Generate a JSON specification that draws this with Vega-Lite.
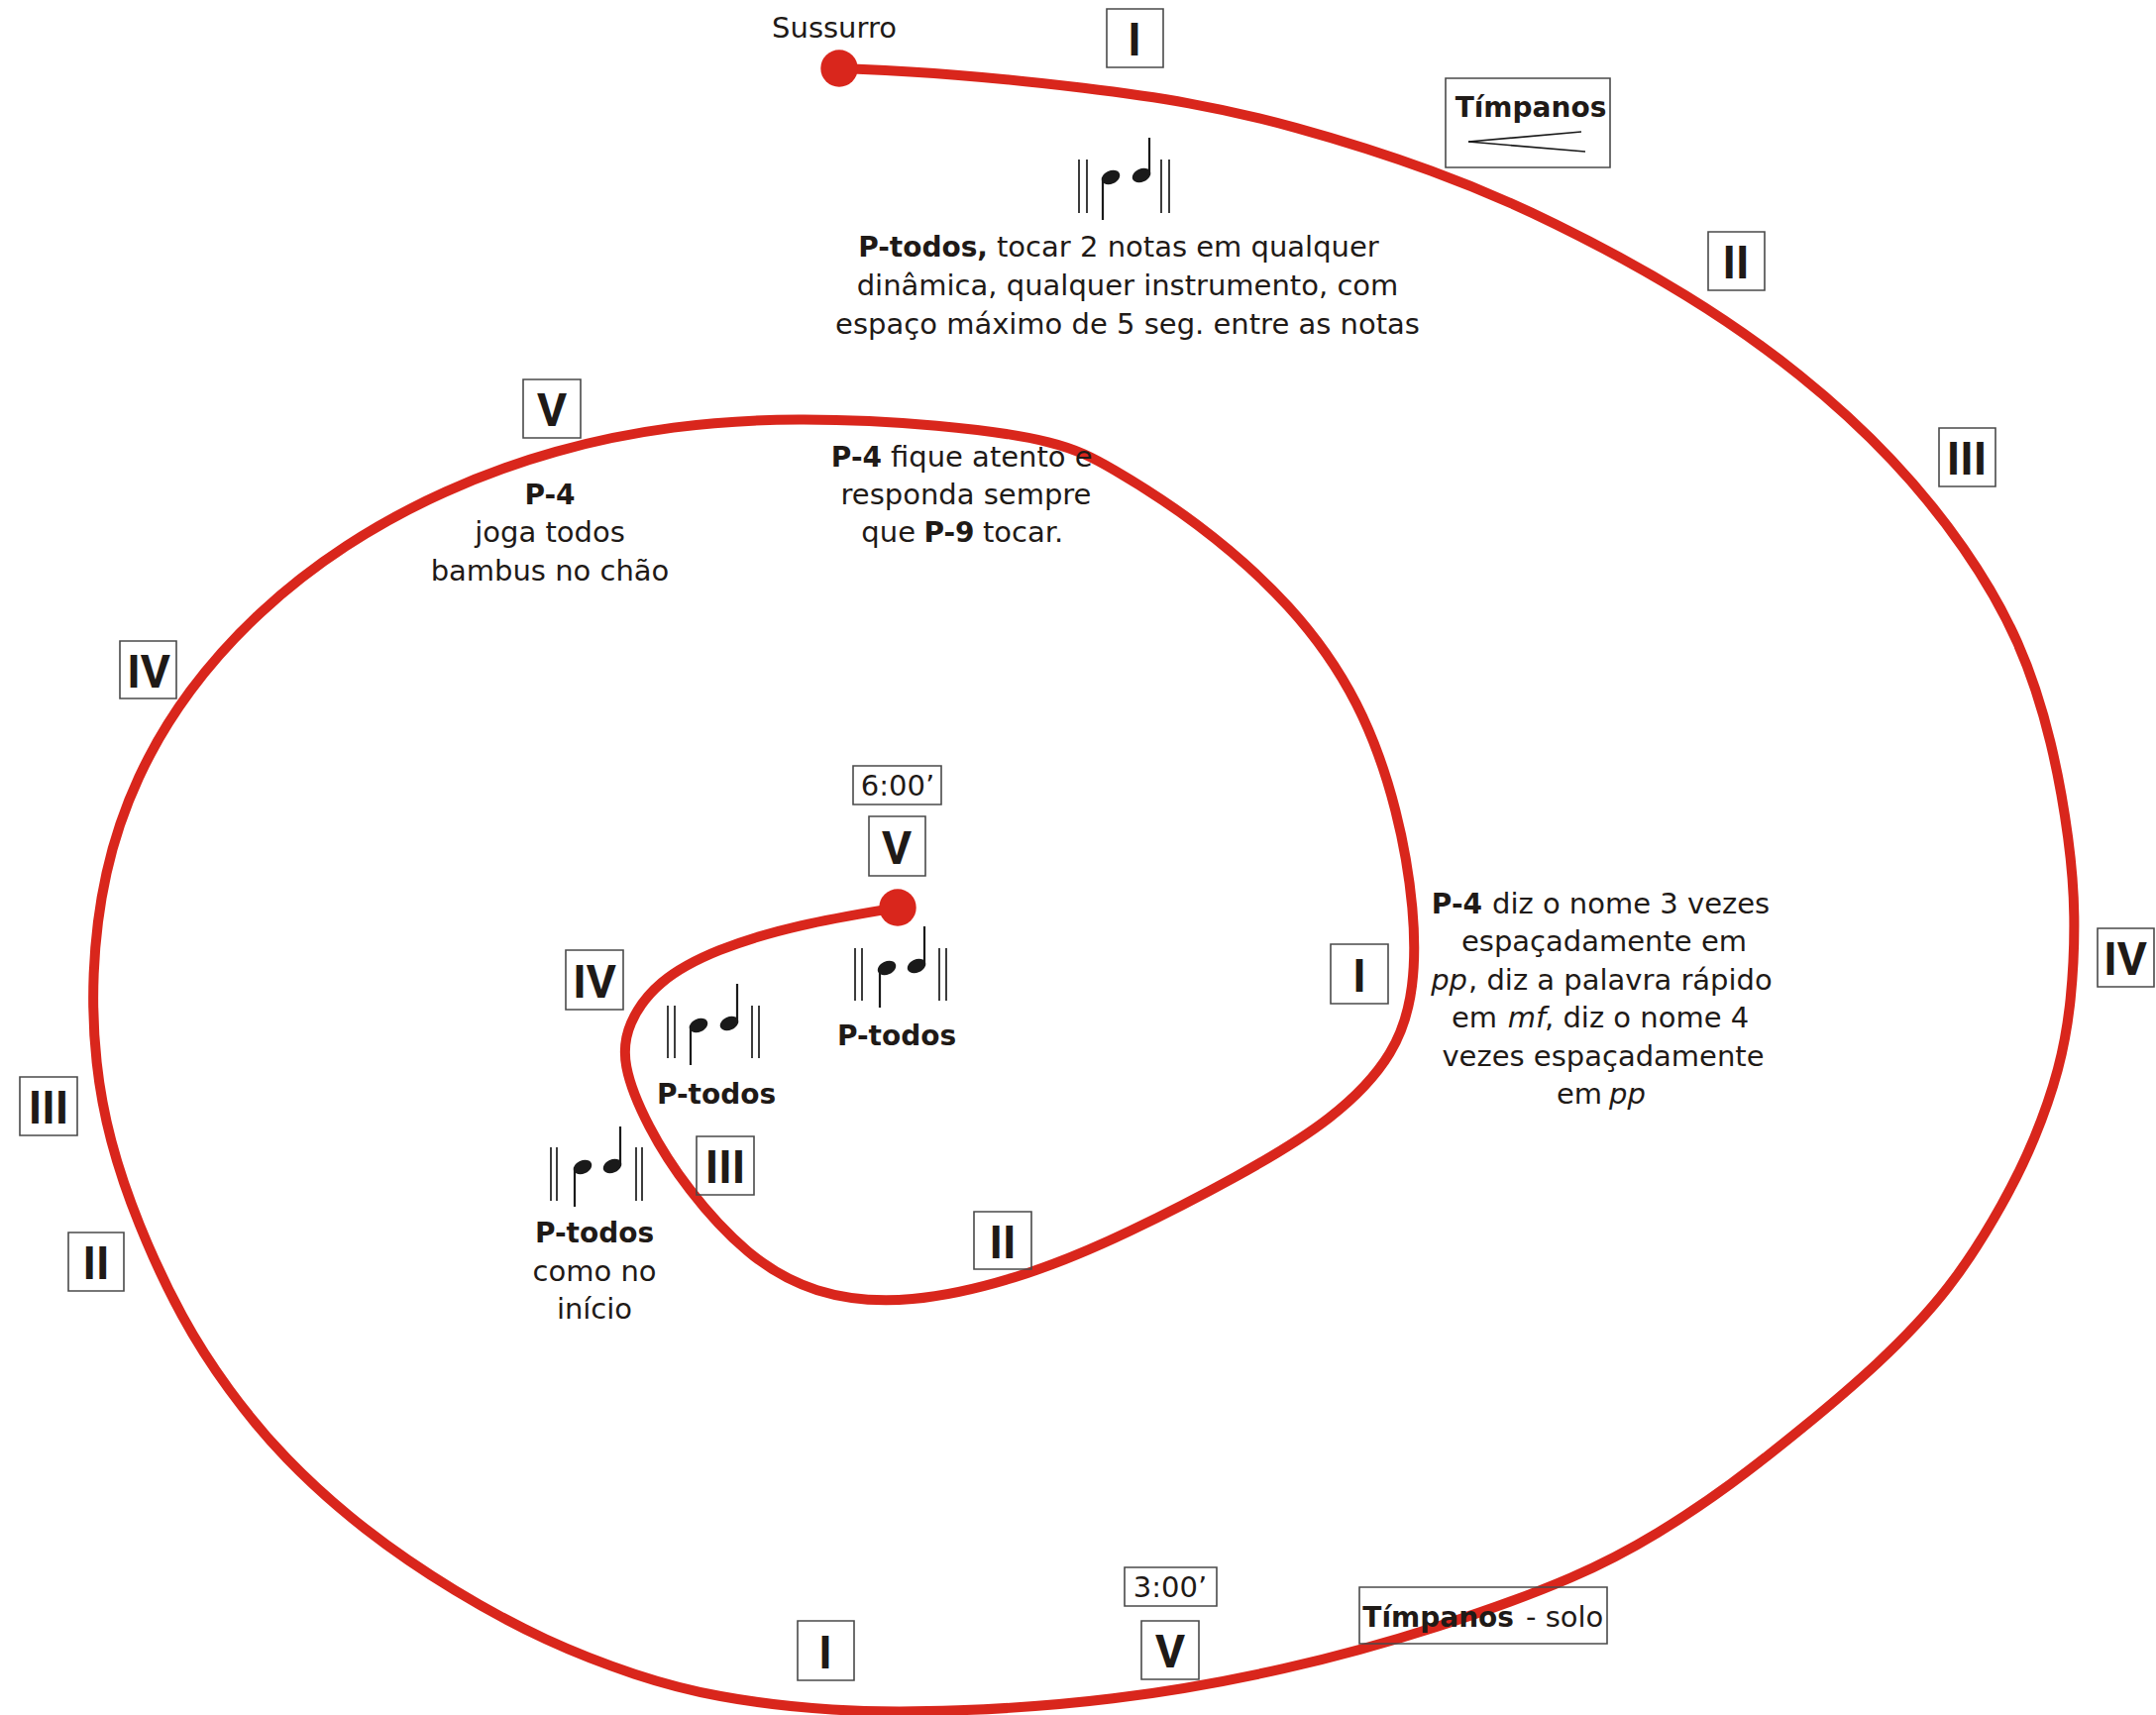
{
  "$schema": "https://vega.github.io/schema/vega-lite/v6.json",
  "width": 2176,
  "height": 1731,
  "padding": 0,
  "autosize": {"type": "none"},
  "background": "white",
  "config": {"view": {"stroke": null}},
  "datasets": {
    "path": [
      {"i":1,"x":847,"y":69},{"i":2,"x":960,"y":74},{"i":3,"x":1100,"y":89},{"i":4,"x":1200,"y":103},
      {"i":5,"x":1300,"y":125},{"i":6,"x":1450,"y":172},{"i":7,"x":1566,"y":222},{"i":8,"x":1705,"y":297},
      {"i":9,"x":1820,"y":378},{"i":10,"x":1913,"y":464},{"i":11,"x":1984,"y":552},{"i":12,"x":2040,"y":647},
      {"i":13,"x":2072,"y":750},{"i":14,"x":2089,"y":850},{"i":15,"x":2095,"y":922},{"i":16,"x":2091,"y":1012},
      {"i":17,"x":2079,"y":1079},{"i":18,"x":2054,"y":1150},{"i":19,"x":2024,"y":1212},{"i":20,"x":1969,"y":1302},
      {"i":21,"x":1895,"y":1378},{"i":22,"x":1820,"y":1441},{"i":23,"x":1747,"y":1499},{"i":24,"x":1674,"y":1548},
      {"i":25,"x":1596,"y":1591},{"i":26,"x":1453,"y":1643},{"i":27,"x":1300,"y":1686},{"i":28,"x":1120,"y":1718},
      {"i":29,"x":960,"y":1728},{"i":30,"x":840,"y":1728},{"i":31,"x":720,"y":1713},{"i":32,"x":643,"y":1692},
      {"i":33,"x":551,"y":1657},{"i":34,"x":459,"y":1607},{"i":35,"x":367,"y":1545},{"i":36,"x":285,"y":1471},
      {"i":37,"x":230,"y":1403},{"i":38,"x":184,"y":1333},{"i":39,"x":138,"y":1234},{"i":40,"x":110,"y":1150},
      {"i":41,"x":96,"y":1075},{"i":42,"x":92,"y":985},{"i":43,"x":104,"y":880},{"i":44,"x":137,"y":783},
      {"i":45,"x":189,"y":696},{"i":46,"x":260,"y":617},{"i":47,"x":347,"y":549},{"i":48,"x":448,"y":494},
      {"i":49,"x":560,"y":453},{"i":50,"x":679,"y":429},{"i":51,"x":802,"y":421},
      {"i":53,"x":950,"y":428},{"i":54,"x":1070,"y":445},{"i":55,"x":1119,"y":470},{"i":56,"x":1207,"y":525},
      {"i":57,"x":1305,"y":610},{"i":58,"x":1374,"y":708},{"i":59,"x":1412,"y":820},{"i":60,"x":1428,"y":920},
      {"i":61,"x":1428,"y":997},{"i":62,"x":1410,"y":1063},{"i":63,"x":1347,"y":1130},{"i":64,"x":1249,"y":1188},
      {"i":65,"x":1138,"y":1245},{"i":66,"x":1041,"y":1287},{"i":67,"x":916,"y":1318},{"i":68,"x":820,"y":1307},
      {"i":69,"x":753,"y":1267},{"i":70,"x":693,"y":1200},{"i":71,"x":653,"y":1137},{"i":72,"x":627,"y":1073},
      {"i":73,"x":633,"y":1033},{"i":74,"x":663,"y":990},{"i":75,"x":722,"y":958},{"i":76,"x":805,"y":933},
      {"i":77,"x":906,"y":916}
    ],
    "dots": [{"x":847,"y":69,"name":"início"},{"x":906,"y":916,"name":"fim"}],
    "boxes": [
      {"x1":1117,"x2":1174,"y1":9,"y2":68},{"x1":1724,"x2":1781,"y1":234,"y2":293},
      {"x1":1957,"x2":2014,"y1":432,"y2":491},{"x1":2117,"x2":2174,"y1":937,"y2":996},
      {"x1":1152,"x2":1210,"y1":1636,"y2":1695},{"x1":805,"x2":862,"y1":1636,"y2":1696},
      {"x1":69,"x2":125,"y1":1244,"y2":1303},{"x1":20,"x2":78,"y1":1087,"y2":1146},
      {"x1":121,"x2":178,"y1":647,"y2":705},{"x1":528,"x2":586,"y1":383,"y2":442},
      {"x1":1343,"x2":1401,"y1":953,"y2":1013},{"x1":983,"x2":1041,"y1":1223,"y2":1281},
      {"x1":703,"x2":761,"y1":1147,"y2":1206},{"x1":571,"x2":629,"y1":959,"y2":1019},
      {"x1":877,"x2":934,"y1":824,"y2":884},
      {"x1":1459,"x2":1625,"y1":79,"y2":169},{"x1":1135,"x2":1228,"y1":1582,"y2":1621},
      {"x1":861,"x2":950,"y1":773,"y2":812},{"x1":1372,"x2":1622,"y1":1602,"y2":1659}
    ],
    "rules": [
      {"x":1482,"y":143,"x2":1596,"y2":133,"k":"thin"},{"x":1482,"y":143,"x2":1600,"y2":153,"k":"thin"},
      {"x":1089,"y":161,"x2":1089,"y2":215,"k":"thin"},{"x":1097,"y":161,"x2":1097,"y2":215,"k":"thin"},
      {"x":1172,"y":161,"x2":1172,"y2":215,"k":"thin"},{"x":1180,"y":161,"x2":1180,"y2":215,"k":"thin"},
      {"x":1113,"y":179,"x2":1113,"y2":222,"k":"stem"},{"x":1160,"y":139,"x2":1160,"y2":177,"k":"stem"},
      {"x":863,"y":957,"x2":863,"y2":1010,"k":"thin"},{"x":870,"y":957,"x2":870,"y2":1010,"k":"thin"},
      {"x":948,"y":957,"x2":948,"y2":1010,"k":"thin"},{"x":955,"y":957,"x2":955,"y2":1010,"k":"thin"},
      {"x":888,"y":977,"x2":888,"y2":1017,"k":"stem"},{"x":933,"y":935,"x2":933,"y2":975,"k":"stem"},
      {"x":674,"y":1015,"x2":674,"y2":1068,"k":"thin"},{"x":681,"y":1015,"x2":681,"y2":1068,"k":"thin"},
      {"x":759,"y":1015,"x2":759,"y2":1068,"k":"thin"},{"x":766,"y":1015,"x2":766,"y2":1068,"k":"thin"},
      {"x":697,"y":1035,"x2":697,"y2":1075,"k":"stem"},{"x":744,"y":993,"x2":744,"y2":1033,"k":"stem"},
      {"x":556,"y":1158,"x2":556,"y2":1212,"k":"thin"},{"x":562,"y":1158,"x2":562,"y2":1212,"k":"thin"},
      {"x":642,"y":1158,"x2":642,"y2":1212,"k":"thin"},{"x":648,"y":1158,"x2":648,"y2":1212,"k":"thin"},
      {"x":580,"y":1178,"x2":580,"y2":1218,"k":"stem"},{"x":626,"y":1137,"x2":626,"y2":1177,"k":"stem"}
    ],
    "heads": [
      {"x":1121,"y":179},{"x":1152,"y":177},{"x":895,"y":977},{"x":925,"y":975},
      {"x":705,"y":1035},{"x":736,"y":1033},{"x":588,"y":1178},{"x":618,"y":1177}
    ],
    "texts": [
      {"x":842,"y":38,"t":"Sussurro","k":"nc"},
      {"x":997,"y":259,"t":"P-todos,","k":"br"},
      {"x":1006,"y":259,"t":"tocar 2 notas em qualquer","k":"nl"},
      {"x":1138,"y":298,"t":"dinâmica, qualquer instrumento, com","k":"nc"},
      {"x":1138,"y":337,"t":"espaço máximo de 5 seg. entre as notas","k":"nc"},
      {"x":890,"y":471,"t":"P-4","k":"br"},
      {"x":899,"y":471,"t":"fique atento e","k":"nl"},
      {"x":975,"y":509,"t":"responda sempre","k":"nc"},
      {"x":924,"y":547,"t":"que","k":"nr"},
      {"x":958,"y":547,"t":"P-9","k":"bc"},
      {"x":992,"y":547,"t":"tocar.","k":"nl"},
      {"x":555,"y":509,"t":"P-4","k":"bc"},
      {"x":555,"y":547,"t":"joga todos","k":"nc"},
      {"x":555,"y":586,"t":"bambus no chão","k":"nc"},
      {"x":1496,"y":922,"t":"P-4","k":"br"},
      {"x":1506,"y":922,"t":"diz o nome 3 vezes","k":"nl"},
      {"x":1619,"y":960,"t":"espaçadamente em","k":"nc"},
      {"x":1481,"y":999,"t":"pp","k":"ir"},
      {"x":1482,"y":999,"t":", diz a palavra rápido","k":"nl"},
      {"x":1511,"y":1037,"t":"em","k":"nr"},
      {"x":1541,"y":1037,"t":"mf","k":"ic"},
      {"x":1559,"y":1037,"t":", diz o nome 4","k":"nl"},
      {"x":1618,"y":1076,"t":"vezes espaçadamente","k":"nc"},
      {"x":1617,"y":1114,"t":"em","k":"nr"},
      {"x":1624,"y":1114,"t":"pp","k":"il"},
      {"x":905,"y":1055,"t":"P-todos","k":"bc"},
      {"x":723,"y":1114,"t":"P-todos","k":"bc"},
      {"x":600,"y":1254,"t":"P-todos","k":"bc"},
      {"x":600,"y":1293,"t":"como no","k":"nc"},
      {"x":600,"y":1331,"t":"início","k":"nc"},
      {"x":1545,"y":118,"t":"Tímpanos","k":"bc"},
      {"x":1528,"y":1642,"t":"Tímpanos","k":"br"},
      {"x":1540,"y":1642,"t":"- solo","k":"nl"},
      {"x":1181,"y":1612,"t":"3:00’","k":"nc"},
      {"x":906,"y":803,"t":"6:00’","k":"nc"},
      {"x":1145,"y":56,"t":"I","k":"num"},
      {"x":1752,"y":281,"t":"II","k":"num"},
      {"x":1985,"y":479,"t":"III","k":"num"},
      {"x":2145,"y":984,"t":"IV","k":"num"},
      {"x":1181,"y":1683,"t":"V","k":"num"},
      {"x":833,"y":1684,"t":"I","k":"num"},
      {"x":97,"y":1291,"t":"II","k":"num"},
      {"x":49,"y":1134,"t":"III","k":"num"},
      {"x":150,"y":694,"t":"IV","k":"num"},
      {"x":557,"y":430,"t":"V","k":"num"},
      {"x":1372,"y":1001,"t":"I","k":"num"},
      {"x":1012,"y":1270,"t":"II","k":"num"},
      {"x":732,"y":1194,"t":"III","k":"num"},
      {"x":600,"y":1007,"t":"IV","k":"num"},
      {"x":905,"y":872,"t":"V","k":"num"}
    ]
  },
  "layer": [
    {
      "data": {"name": "path"},
      "mark": {"type": "line", "interpolate": "basis", "strokeWidth": 10, "color": "#D9261C", "strokeCap": "round", "strokeJoin": "round"},
      "encoding": {
        "x": {"field": "x", "type": "quantitative", "scale": {"domain": [0, 2176], "nice": false, "zero": false}, "axis": null},
        "y": {"field": "y", "type": "quantitative", "scale": {"domain": [0, 1731], "reverse": true, "nice": false, "zero": false}, "axis": null},
        "order": {"field": "i", "type": "quantitative"}
      }
    },
    {
      "data": {"name": "dots"},
      "mark": {"type": "point", "shape": "circle", "filled": true, "size": 1400, "color": "#D9261C", "opacity": 1},
      "encoding": {
        "x": {"field": "x", "type": "quantitative"},
        "y": {"field": "y", "type": "quantitative"}
      }
    },
    {
      "data": {"name": "boxes"},
      "mark": {"type": "rect", "fill": null, "fillOpacity": 0, "stroke": "#4a4a4a", "strokeWidth": 1.6},
      "encoding": {
        "x": {"field": "x1", "type": "quantitative"},
        "x2": {"field": "x2"},
        "y": {"field": "y1", "type": "quantitative"},
        "y2": {"field": "y2"}
      }
    },
    {
      "data": {"name": "rules"},
      "transform": [{"filter": "datum.k === 'thin'"}],
      "mark": {"type": "rule", "color": "#1a1a1a", "strokeWidth": 1.7},
      "encoding": {
        "x": {"field": "x", "type": "quantitative"},
        "y": {"field": "y", "type": "quantitative"},
        "x2": {"field": "x2"},
        "y2": {"field": "y2"}
      }
    },
    {
      "data": {"name": "rules"},
      "transform": [{"filter": "datum.k === 'stem'"}],
      "mark": {"type": "rule", "color": "#1a1a1a", "strokeWidth": 2.2},
      "encoding": {
        "x": {"field": "x", "type": "quantitative"},
        "y": {"field": "y", "type": "quantitative"},
        "x2": {"field": "x2"},
        "y2": {"field": "y2"}
      }
    },
    {
      "data": {"name": "heads"},
      "mark": {"type": "point", "filled": true, "color": "#1a1a1a", "opacity": 1, "size": 380, "angle": -25,
        "shape": "M 1 0 C 1 0.36 0.55 0.68 0 0.68 C -0.55 0.68 -1 0.36 -1 0 C -1 -0.36 -0.55 -0.68 0 -0.68 C 0.55 -0.68 1 -0.36 1 0 Z"},
      "encoding": {
        "x": {"field": "x", "type": "quantitative"},
        "y": {"field": "y", "type": "quantitative"}
      }
    },
    {
      "data": {"name": "texts"},
      "transform": [{"filter": "datum.k === 'nc'"}],
      "mark": {"type": "text", "font": "DejaVu Sans", "fontSize": 29, "align": "center", "baseline": "alphabetic", "color": "#1f1a17"},
      "encoding": {"x": {"field": "x", "type": "quantitative"}, "y": {"field": "y", "type": "quantitative"}, "text": {"field": "t"}}
    },
    {
      "data": {"name": "texts"},
      "transform": [{"filter": "datum.k === 'nl'"}],
      "mark": {"type": "text", "font": "DejaVu Sans", "fontSize": 29, "align": "left", "baseline": "alphabetic", "color": "#1f1a17"},
      "encoding": {"x": {"field": "x", "type": "quantitative"}, "y": {"field": "y", "type": "quantitative"}, "text": {"field": "t"}}
    },
    {
      "data": {"name": "texts"},
      "transform": [{"filter": "datum.k === 'nr'"}],
      "mark": {"type": "text", "font": "DejaVu Sans", "fontSize": 29, "align": "right", "baseline": "alphabetic", "color": "#1f1a17"},
      "encoding": {"x": {"field": "x", "type": "quantitative"}, "y": {"field": "y", "type": "quantitative"}, "text": {"field": "t"}}
    },
    {
      "data": {"name": "texts"},
      "transform": [{"filter": "datum.k === 'bc'"}],
      "mark": {"type": "text", "font": "DejaVu Sans", "fontSize": 28, "fontWeight": "bold", "align": "center", "baseline": "alphabetic", "color": "#1f1a17"},
      "encoding": {"x": {"field": "x", "type": "quantitative"}, "y": {"field": "y", "type": "quantitative"}, "text": {"field": "t"}}
    },
    {
      "data": {"name": "texts"},
      "transform": [{"filter": "datum.k === 'br'"}],
      "mark": {"type": "text", "font": "DejaVu Sans", "fontSize": 28, "fontWeight": "bold", "align": "right", "baseline": "alphabetic", "color": "#1f1a17"},
      "encoding": {"x": {"field": "x", "type": "quantitative"}, "y": {"field": "y", "type": "quantitative"}, "text": {"field": "t"}}
    },
    {
      "data": {"name": "texts"},
      "transform": [{"filter": "datum.k === 'il'"}],
      "mark": {"type": "text", "font": "DejaVu Sans", "fontSize": 29, "fontStyle": "italic", "align": "left", "baseline": "alphabetic", "color": "#1f1a17"},
      "encoding": {"x": {"field": "x", "type": "quantitative"}, "y": {"field": "y", "type": "quantitative"}, "text": {"field": "t"}}
    },
    {
      "data": {"name": "texts"},
      "transform": [{"filter": "datum.k === 'ir'"}],
      "mark": {"type": "text", "font": "DejaVu Sans", "fontSize": 29, "fontStyle": "italic", "align": "right", "baseline": "alphabetic", "color": "#1f1a17"},
      "encoding": {"x": {"field": "x", "type": "quantitative"}, "y": {"field": "y", "type": "quantitative"}, "text": {"field": "t"}}
    },
    {
      "data": {"name": "texts"},
      "transform": [{"filter": "datum.k === 'ic'"}],
      "mark": {"type": "text", "font": "DejaVu Sans", "fontSize": 29, "fontStyle": "italic", "align": "center", "baseline": "alphabetic", "color": "#1f1a17"},
      "encoding": {"x": {"field": "x", "type": "quantitative"}, "y": {"field": "y", "type": "quantitative"}, "text": {"field": "t"}}
    },
    {
      "data": {"name": "texts"},
      "transform": [{"filter": "datum.k === 'num'"}],
      "mark": {"type": "text", "font": "Liberation Sans Narrow, Roboto", "fontSize": 46, "fontWeight": "bold", "align": "center", "baseline": "alphabetic", "color": "#1f1a17"},
      "encoding": {"x": {"field": "x", "type": "quantitative"}, "y": {"field": "y", "type": "quantitative"}, "text": {"field": "t"}}
    }
  ]
}
